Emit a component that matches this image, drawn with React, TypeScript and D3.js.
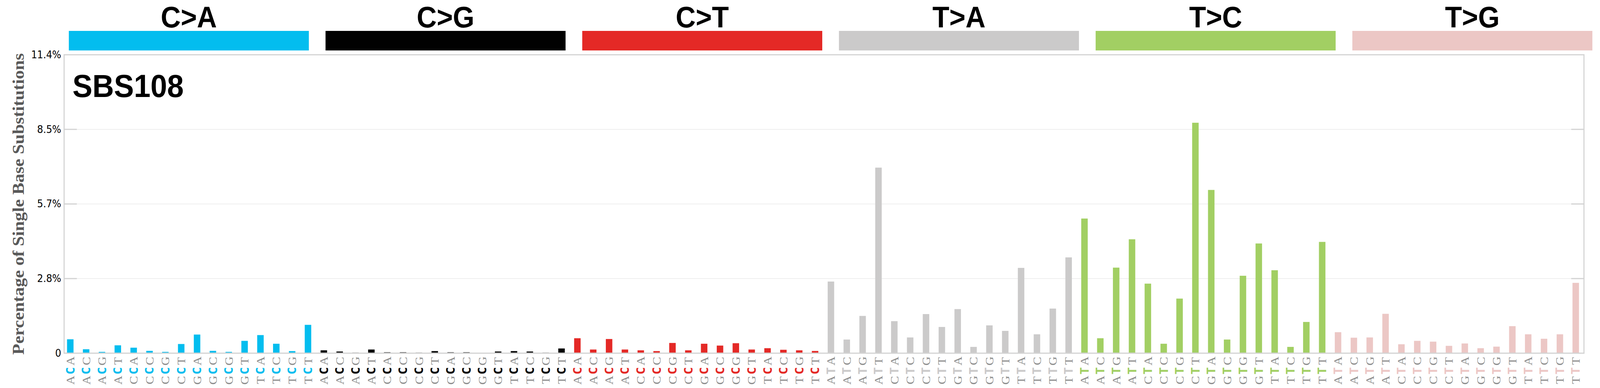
import React from 'react';
import * as d3 from 'd3';

const WIDTH = 4393;
const HEIGHT = 992;

const MUTATION_TYPES = ['C>A', 'C>G', 'C>T', 'T>A', 'T>C', 'T>G'];
const TYPE_COLORS = ['#03bdef', '#010101', '#e42926', '#cbcaca', '#a2cf63', '#ecc7c5'];

const C_CONTEXTS = ['ACA', 'ACC', 'ACG', 'ACT', 'CCA', 'CCC', 'CCG', 'CCT', 'GCA', 'GCC', 'GCG', 'GCT', 'TCA', 'TCC', 'TCG', 'TCT'];
const T_CONTEXTS = ['ATA', 'ATC', 'ATG', 'ATT', 'CTA', 'CTC', 'CTG', 'CTT', 'GTA', 'GTC', 'GTG', 'GTT', 'TTA', 'TTC', 'TTG', 'TTT'];

// percentages per mutation type, in context order
const CA_VALUES = [0.53, 0.15, 0.05, 0.3, 0.21, 0.09, 0.05, 0.35, 0.71, 0.09, 0.05, 0.47, 0.69, 0.36, 0.08, 1.08];
const CG_VALUES = [0.11, 0.065, 0.02, 0.14, 0.035, 0.035, 0.02, 0.08, 0.035, 0.035, 0.005, 0.065, 0.08, 0.065, 0.02, 0.18];
const CT_VALUES = [0.57, 0.14, 0.54, 0.14, 0.11, 0.08, 0.39, 0.11, 0.36, 0.29, 0.38, 0.14, 0.19, 0.13, 0.11, 0.085];
const TA_VALUES = [2.73, 0.52, 1.42, 7.07, 1.22, 0.6, 1.49, 1.0, 1.68, 0.24, 1.06, 0.85, 3.25, 0.72, 1.7, 3.65];
const TC_VALUES = [5.13, 0.57, 3.26, 4.34, 2.65, 0.36, 2.08, 8.78, 6.22, 0.52, 2.95, 4.18, 3.16, 0.24, 1.19, 4.24];
const TG_VALUES = [0.8, 0.59, 0.6, 1.5, 0.34, 0.47, 0.44, 0.28, 0.37, 0.19, 0.25, 1.03, 0.72, 0.55, 0.72, 2.68];

const Y_MAX = 11.37;
const Y_TICK_LABELS = ['0', '2.8%', '5.7%', '8.5%', '11.4%'];
const SIGNATURE = 'SBS108';
const Y_TITLE = 'Percentage of Single Base Substitutions';

const SERIES = [CA_VALUES, CG_VALUES, CT_VALUES, TA_VALUES, TC_VALUES, TG_VALUES];

interface Bar {
  key: string;
  context: string;
  value: number;
  group: number;
}

const bars: Bar[] = [];
SERIES.forEach((vals, g) => {
  const ctx = g < 3 ? C_CONTEXTS : T_CONTEXTS;
  vals.forEach((v, i) => {
    bars.push({ key: `${MUTATION_TYPES[g]}:${ctx[i]}`, context: ctx[i], value: v, group: g });
  });
});

const plot = { left: 176, right: 4349, top: 140, bottom: 903 };

export default function App() {
  const x = d3
    .scaleBand<string>()
    .domain(bars.map((b) => b.key))
    .range([plot.left, plot.right])
    .paddingInner(0.59)
    .paddingOuter(0.25)
    .align(0.37);
  const bw = x.bandwidth();

  const y = d3.scaleLinear().domain([0, Y_MAX]).range([plot.bottom, plot.top]);
  const ticks = Y_TICK_LABELS.map((label, i) => ({ label, v: (Y_MAX * i) / 4 }));

  // header bars are laid out on their own pitch
  const header = d3.scaleBand<string>().domain(MUTATION_TYPES).range([189, 4378]).paddingInner(0.0565).paddingOuter(0);

  const labelFont = "'Liberation Serif', 'Times New Roman', serif";

  return (
    <svg
      viewBox={`0 0 ${WIDTH} ${HEIGHT}`}
      preserveAspectRatio="none"
      style={{ position: 'fixed', left: 0, top: 0, width: '100vw', height: '100vh', background: '#fff', display: 'block' }}
    >
      <rect x={0} y={0} width={WIDTH} height={HEIGHT} fill="#fff" />

      {/* mutation type headers */}
      {MUTATION_TYPES.map((t, g) => {
        const hx = header(t)!;
        const hw = 659;
        return (
          <g key={t}>
            <rect x={hx} y={79} width={hw} height={50} fill={TYPE_COLORS[g]} />
            <text
              x={hx + hw / 2}
              y={70}
              textAnchor="middle"
              fontFamily="'Liberation Sans', Arial, sans-serif"
              fontWeight="bold"
              fontSize={76}
              fill="#000"
            >
              {t}
            </text>
          </g>
        );
      })}

      {/* grid lines */}
      {ticks.slice(1, 4).map((t) => (
        <line key={t.label} x1={plot.left} x2={plot.right} y1={y(t.v)} y2={y(t.v)} stroke="#e9e9e9" strokeWidth={1.5} />
      ))}

      {/* bars */}
      {bars.map((b) => (
        <rect
          key={b.key}
          x={x(b.key)}
          y={y(b.value)}
          width={bw}
          height={plot.bottom - y(b.value)}
          fill={TYPE_COLORS[b.group]}
        />
      ))}

      {/* frame and inward ticks */}
      <rect
        x={plot.left}
        y={plot.top}
        width={plot.right - plot.left}
        height={plot.bottom - plot.top}
        fill="none"
        stroke="#d3d3d3"
        strokeWidth={3}
      />
      {ticks.slice(1, 4).map((t) => (
        <g key={'tk' + t.label}>
          <line x1={plot.left} x2={plot.left + 35} y1={y(t.v)} y2={y(t.v)} stroke="#d3d3d3" strokeWidth={3} />
          <line x1={plot.right - 35} x2={plot.right} y1={y(t.v)} y2={y(t.v)} stroke="#d3d3d3" strokeWidth={3} />
        </g>
      ))}

      {/* y tick labels */}
      {ticks.map((t) => (
        <text
          key={'tl' + t.label}
          x={168}
          y={y(t.v)}
          textAnchor="end"
          dominantBaseline="central"
          fontFamily="'DejaVu Sans', sans-serif"
          fontSize={26}
          fill="#000"
        >
          {t.label}
        </text>
      ))}

      {/* y axis title */}
      <text
        transform={`translate(65, ${(plot.top + plot.bottom) / 2}) rotate(-90)`}
        textAnchor="middle"
        fontFamily="'Liberation Serif', 'Times New Roman', serif"
        fontWeight="bold"
        fontSize={46}
        fill="#595959"
      >
        {Y_TITLE}
      </text>

      {/* signature name */}
      <text
        x={199}
        y={248}
        fontFamily="'Liberation Sans', Arial, sans-serif"
        fontWeight="bold"
        fontSize={82}
        fill="#000"
      >
        {SIGNATURE}
      </text>

      {/* x labels: three stacked rotated characters */}
      {bars.map((b) => {
        const cx = x(b.key)! + bw / 2;
        const chars = [
          { ch: b.context[2], cy: 923, bold: false },
          { ch: b.context[1], cy: 948, bold: true },
          { ch: b.context[0], cy: 972, bold: false },
        ];
        return (
          <g key={'xl' + b.key}>
            {chars.map((c, k) => (
              <text
                key={k}
                transform={`translate(${cx}, ${c.cy}) rotate(-90)`}
                textAnchor="middle"
                dominantBaseline="central"
                fontFamily={c.bold ? "'DejaVu Sans Mono', monospace" : labelFont}
                fontWeight={c.bold ? 'bold' : 'normal'}
                fontSize={32}
                fill={c.bold ? TYPE_COLORS[b.group] : '#8c8c8c'}
              >
                {c.ch}
              </text>
            ))}
          </g>
        );
      })}
    </svg>
  );
}
